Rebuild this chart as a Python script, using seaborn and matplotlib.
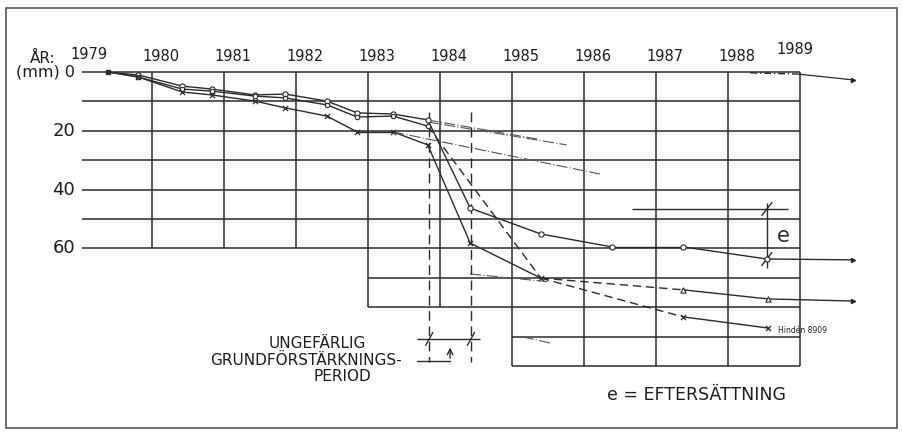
import matplotlib
matplotlib.use("Agg")
import matplotlib.pyplot as plt
import pandas as pd
import seaborn as sns

# settlement readings: decimal year, settlement in mm
top_yr = [1979.39, 1979.81, 1980.42, 1980.83, 1981.43, 1981.85, 1982.43, 1982.85, 1983.35, 1983.83,
          1984.42, 1985.40, 1986.39, 1987.38, 1988.54, 1989.74]
top_mm = [0.0, 1.0, 4.8, 5.8, 7.8, 7.5, 9.9, 13.9, 14.3, 16.3,
          46.3, 55.1, 59.5, 59.5, 63.6, 63.9]
top_dash = []

mid_yr = [1979.39, 1979.81, 1980.42, 1980.83, 1981.43, 1981.85, 1982.43, 1982.85, 1983.35, 1983.83,
          1985.40, 1987.38, 1988.56, 1989.74]
mid_mm = [0.0, 1.7, 5.8, 6.5, 8.2, 8.8, 11.2, 15.3, 15.0, 18.4,
          70.1, 74.1, 77.2, 77.9]
mid_dash = [9, 10]

bot_yr = [1979.39, 1979.81, 1980.42, 1980.83, 1981.43, 1981.85, 1982.43, 1982.85, 1983.35, 1983.83,
          1984.42, 1985.40, 1987.38, 1988.56]
bot_mm = [0.0, 1.7, 6.8, 7.8, 9.9, 12.2, 15.0, 20.4, 20.4, 24.8,
          58.2, 70.1, 83.3, 87.1]
bot_dash = [11]

# separate point beyond 1988 (nearly no settlement)
far_yr = [1988.31, 1988.97, 1989.74]
far_mm = [0.3, 0.7, 2.7]

# hand drawn trend lines
trend_yr = [[1983.83, 1985.35], [1983.83, 1985.76], [1983.35, 1986.22], [1984.42, 1985.53], [1985.15, 1985.53]]
trend_mm = [[16.3, 22.8], [17.0, 24.8], [20.4, 34.7], [68.7, 71.4], [90.1, 92.2]]

years = list(range(1980, 1990))
depth_labels = [20, 40, 60]
period = [1983.85, 1984.43]
e_year = 1988.54
e_ref, e_end = 46.6, 63.6

ink = "#2b2b2b"
sns.set_style("white")
plt.rcParams["font.family"] = ["DejaVu Sans"]

fig = plt.figure(figsize=(9.02, 4.32), dpi=100)
ax = fig.add_axes([0, 0, 1, 1])
ax.set_xlim(1979 - 80 / 72, 1979 + 822 / 72)
ax.set_ylim(122.45, -24.49)
ax.axis("off")

# page frame
fig.add_artist(plt.Rectangle((6 / 902, 4 / 432), 891 / 902, 420 / 432, transform=fig.transFigure,
                             fill=False, edgecolor="#555555", lw=1.2))

# grid
lw_g = 1.1
ax.hlines(range(0, 61, 10), 1979.03, 1989, color=ink, lw=lw_g)
ax.hlines([70, 80], 1983, 1989, color=ink, lw=lw_g)
ax.hlines([90, 100], 1985, 1989, color=ink, lw=lw_g)
ax.vlines([1980, 1981, 1982], 0, 60, color=ink, lw=lw_g)
ax.vlines([1983, 1984], 0, 80, color=ink, lw=lw_g)
ax.vlines([1985, 1986, 1987, 1988, 1989], 0, 100, color=ink, lw=lw_g)

# series as segments (solid / dashed)
rows = []
for name, xs, ys, dashed in [("top", top_yr, top_mm, top_dash), ("mid", mid_yr, mid_mm, mid_dash),
                             ("bot", bot_yr, bot_mm, bot_dash)]:
    for i in range(len(xs) - 1):
        kind = "dashed" if i in dashed else "solid"
        seg = f"{name}{i}"
        rows.append((seg, kind, xs[i], ys[i]))
        rows.append((seg, kind, xs[i + 1], ys[i + 1]))
segs = pd.DataFrame(rows, columns=["seg", "kind", "yr", "mm"])
sns.lineplot(data=segs, x="yr", y="mm", units="seg", style="kind", estimator=None, sort=False,
             dashes={"solid": "", "dashed": (6, 3.5)}, color=ink, lw=1.0, legend=False, ax=ax)

# far point line
ax.plot(far_yr[:2], far_mm[:2], color=ink, lw=1.0, dashes=(5, 2, 1, 2))
sns.lineplot(x=far_yr[1:], y=far_mm[1:], color=ink, lw=0.9, estimator=None, sort=False, ax=ax)
ax.plot(far_yr[-1], far_mm[-1], marker=">", ms=3, color=ink)

for xs, ys in zip(trend_yr, trend_mm):
    ax.plot(xs, ys, color="#555555", lw=0.8, dashes=(10, 2, 1, 2))

# markers
ms = 14
sns.scatterplot(x=top_yr[1:-1], y=top_mm[1:-1], marker="o", s=ms, facecolor="white",
                edgecolor=ink, linewidth=0.8, zorder=4, ax=ax)
sns.scatterplot(x=mid_yr[1:10], y=mid_mm[1:10], marker="o", s=10, facecolor="white",
                edgecolor=ink, linewidth=0.8, zorder=4, ax=ax)
sns.scatterplot(x=mid_yr[11:13], y=mid_mm[11:13], marker="^", s=ms, facecolor="white",
                edgecolor=ink, linewidth=0.8, zorder=4, ax=ax)
sns.scatterplot(x=bot_yr[1:], y=bot_mm[1:], marker="x", s=ms, color=ink, linewidth=0.9, zorder=4, ax=ax)
ax.plot(top_yr[0], top_mm[0], marker="s", ms=3.5, color=ink, zorder=5)
ax.plot(top_yr[-1], top_mm[-1], marker=">", ms=3, color=ink)
ax.plot(mid_yr[-1], mid_mm[-1], marker=">", ms=3, color=ink)

# foundation reinforcement period
ax.vlines(period, 13.6, 98.6, color=ink, lw=1.0, linestyles=(0, (7, 4)))
ax.hlines(90.8, 1983.68, 1984.56, color=ink, lw=1.0)
for p in period:
    ax.plot([p - 0.05, p + 0.05], [93.0, 88.6], color=ink, lw=1.0)
ax.plot([1983.68, 1984.14], [98.3, 98.3], color=ink, lw=1.0)
ax.annotate("", xy=(1984.14, 92.8), xytext=(1984.14, 98.3),
            arrowprops=dict(arrowstyle="->", color=ink, lw=1.0))

# eftersättning marker
ax.hlines(e_ref, 1986.67, 1988.83, color=ink, lw=1.0)
ax.vlines(e_year, e_ref - 2, e_end + 3, color=ink, lw=1.0)
for lev in (e_ref, e_end):
    ax.plot([e_year - 0.07, e_year + 0.07], [lev + 2.2, lev - 2.2], color=ink, lw=1.0)
ax.text(e_year + 0.14, 55.8, "e", fontsize=15, color=ink, ha="left", va="center")

# labels
tc = "#1e1e1e"
ax.text(1978.31, -4.5, "ÅR:", fontsize=11, color=tc, ha="left", va="center")
ax.text(1979.12, -6.0, "1979", fontsize=10.5, color=tc, ha="center", va="center")
ax.text(1978.93, 0, "(mm) 0", fontsize=11.5, color=tc, ha="right", va="center")
for d in depth_labels:
    ax.text(1978.93, d, str(d), fontsize=13, color=tc, ha="right", va="center")
for y in years:
    dy = -7.8 if y == 1989 else -5.4
    ax.text(y + 0.12 if y < 1989 else y - 0.07, dy, str(y), fontsize=10.5, color=tc, ha="center", va="center")

ax.text(1982.29, 92.2, "UNGEFÄRLIG", fontsize=11, color=tc, ha="center", va="center")
ax.text(1982.14, 98.0, "GRUNDFÖRSTÄRKNINGS-", fontsize=11, color=tc, ha="center", va="center")
ax.text(1982.65, 103.7, "PERIOD", fontsize=11, color=tc, ha="center", va="center")
ax.text(1987.56, 109.9, "e = EFTERSÄTTNING", fontsize=12.5, color=tc, ha="center", va="center")
ax.text(1988.7, 87.8, "Hindén 8909", fontsize=5.5, color=tc, ha="left", va="center")

fig.savefig("out.png", dpi=100)
